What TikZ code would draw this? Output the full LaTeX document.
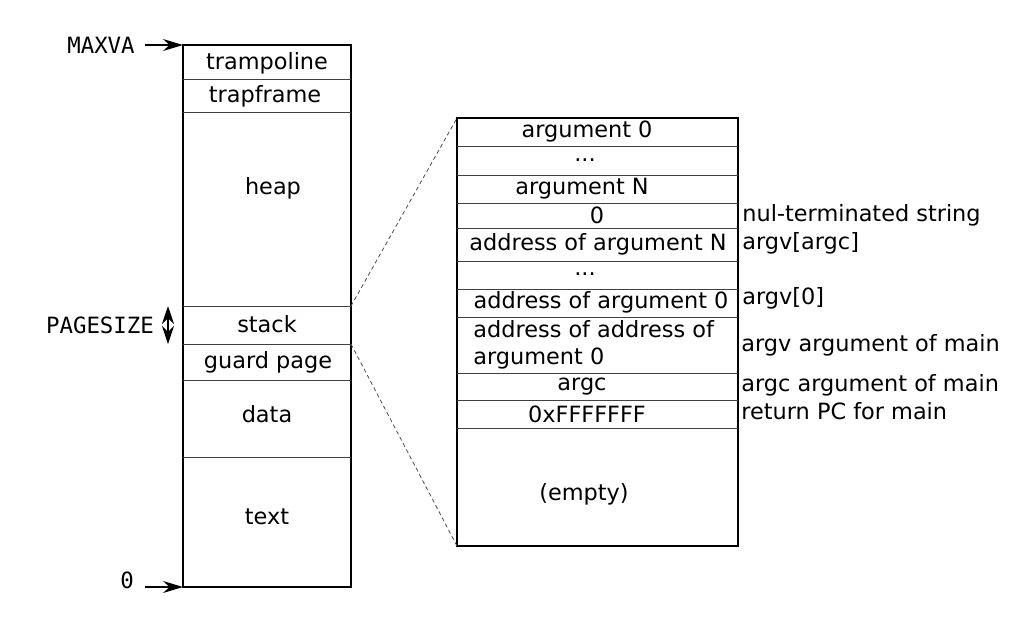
\documentclass[tikz,border=0pt]{standalone}
\usepackage{fontspec}
\setmainfont{DejaVu Sans}
\setmonofont{DejaVu Sans Mono}
\usetikzlibrary{arrows.meta}

\tikzset{
  lbl/.style={font=\fontsize{11.2}{13.6}\selectfont, inner sep=0pt},
  note/.style={lbl, anchor=west},
  addr/.style={font=\ttfamily\fontsize{11.2}{13}\selectfont, inner sep=0pt},
  divider/.style={black!75, line width=0.5pt},
  outline/.style={line width=0.8pt},
  ptr/.style={-{Stealth[length=10pt,width=6pt]}, line width=0.6pt},
  zoomline/.style={black!70, line width=0.4pt, dash pattern=on 2pt off 1.5pt},
}

\begin{document}
\begin{tikzpicture}[x=0.5pt,y=-0.5pt]
	\useasboundingbox (0,0) rectangle (1029,617);

	%address space outline
	\coordinate (memtop) at (183,45);
	\coordinate (membot) at (183,587);
	\coordinate (stacktop) at (351,306);
	\coordinate (stackbot) at (351,344);
	\draw[outline] (memtop) rectangle (351,587);
	\foreach \y in {79,112,306,344,380,457}
		\draw[divider] (183,\y) -- (351,\y);

	%address space contents
	\node[lbl] (tramp) at (267,63) {trampoline};
	\node[lbl] (trapf) at (265,96) {trapframe};
	\node[lbl] (heap) at (273,188) {heap};
	\node[lbl] (stack) at (267,324) {stack};
	\node[lbl] (guard) at (268,362) {guard page};
	\node[lbl] (data) at (267,414) {data};
	\node[lbl] (text) at (267,517) {text};

	%addresses
	\node[addr] (maxva) at (101,45) {MAXVA};
	\coordinate (maxvatail) at (145,45);
	\draw[ptr] (maxvatail) -- (memtop);
	\node[addr] (zero) at (127,580) {0};
	\coordinate (zerotail) at (145,587);
	\draw[ptr] (zerotail) -- (membot);
	\node[addr] (pgsize) at (100,325) {PAGESIZE};
	\coordinate (pgtop) at (168,306);
	\coordinate (pgbot) at (168,344);
	\draw[line width=0.6pt, {Stealth[length=9pt,width=6pt]}-{Stealth[length=9pt,width=6pt]}] (pgbot) -- (pgtop);

	%user stack outline
	\coordinate (ustop) at (457,118);
	\coordinate (usbot) at (457,546);
	\draw[outline] (ustop) rectangle (738,546);
	\foreach \y in {146,175,203,228,261,289,317,373,400,428}
		\draw[divider] (457,\y) -- (738,\y);

	%zoom
	\draw[zoomline] (stacktop) -- (ustop);
	\draw[zoomline] (stackbot) -- (usbot);

	%user stack contents
	\node[lbl] (arg0) at (587,132) {argument 0};
	\node[lbl] (dots1) at (585,160) {...};
	\node[lbl] (argn) at (582,189) {argument N};
	\node[lbl] (nul) at (597,215) {0};
	\node[lbl] (addrn) at (598,244) {address of argument N};
	\node[lbl] (dots2) at (585,274) {...};
	\node[lbl] (addr0) at (601,302) {address of argument 0};
	\node[lbl, anchor=west, align=left] (argv) at (473,345) {address of address of\\ argument 0};
	\node[lbl] (argc) at (582,387) {argc};
	\node[lbl] (retpc) at (587,414) {0xFFFFFFF};
	\node[lbl] (empty) at (584,494) {(empty)};

	%notes
	\node[note] (nulnote) at (742,215) {nul-terminated string};
	\node[note] (argvargc) at (742,243) {argv[argc]};
	\node[note] (argvzero) at (742,298) {argv[0]};
	\node[note] (argvmain) at (741,345) {argv argument of main};
	\node[note] (argcmain) at (741,385) {argc argument of main};
	\node[note] (retnote) at (741,411) {return PC for main};
\end{tikzpicture}
\end{document}
